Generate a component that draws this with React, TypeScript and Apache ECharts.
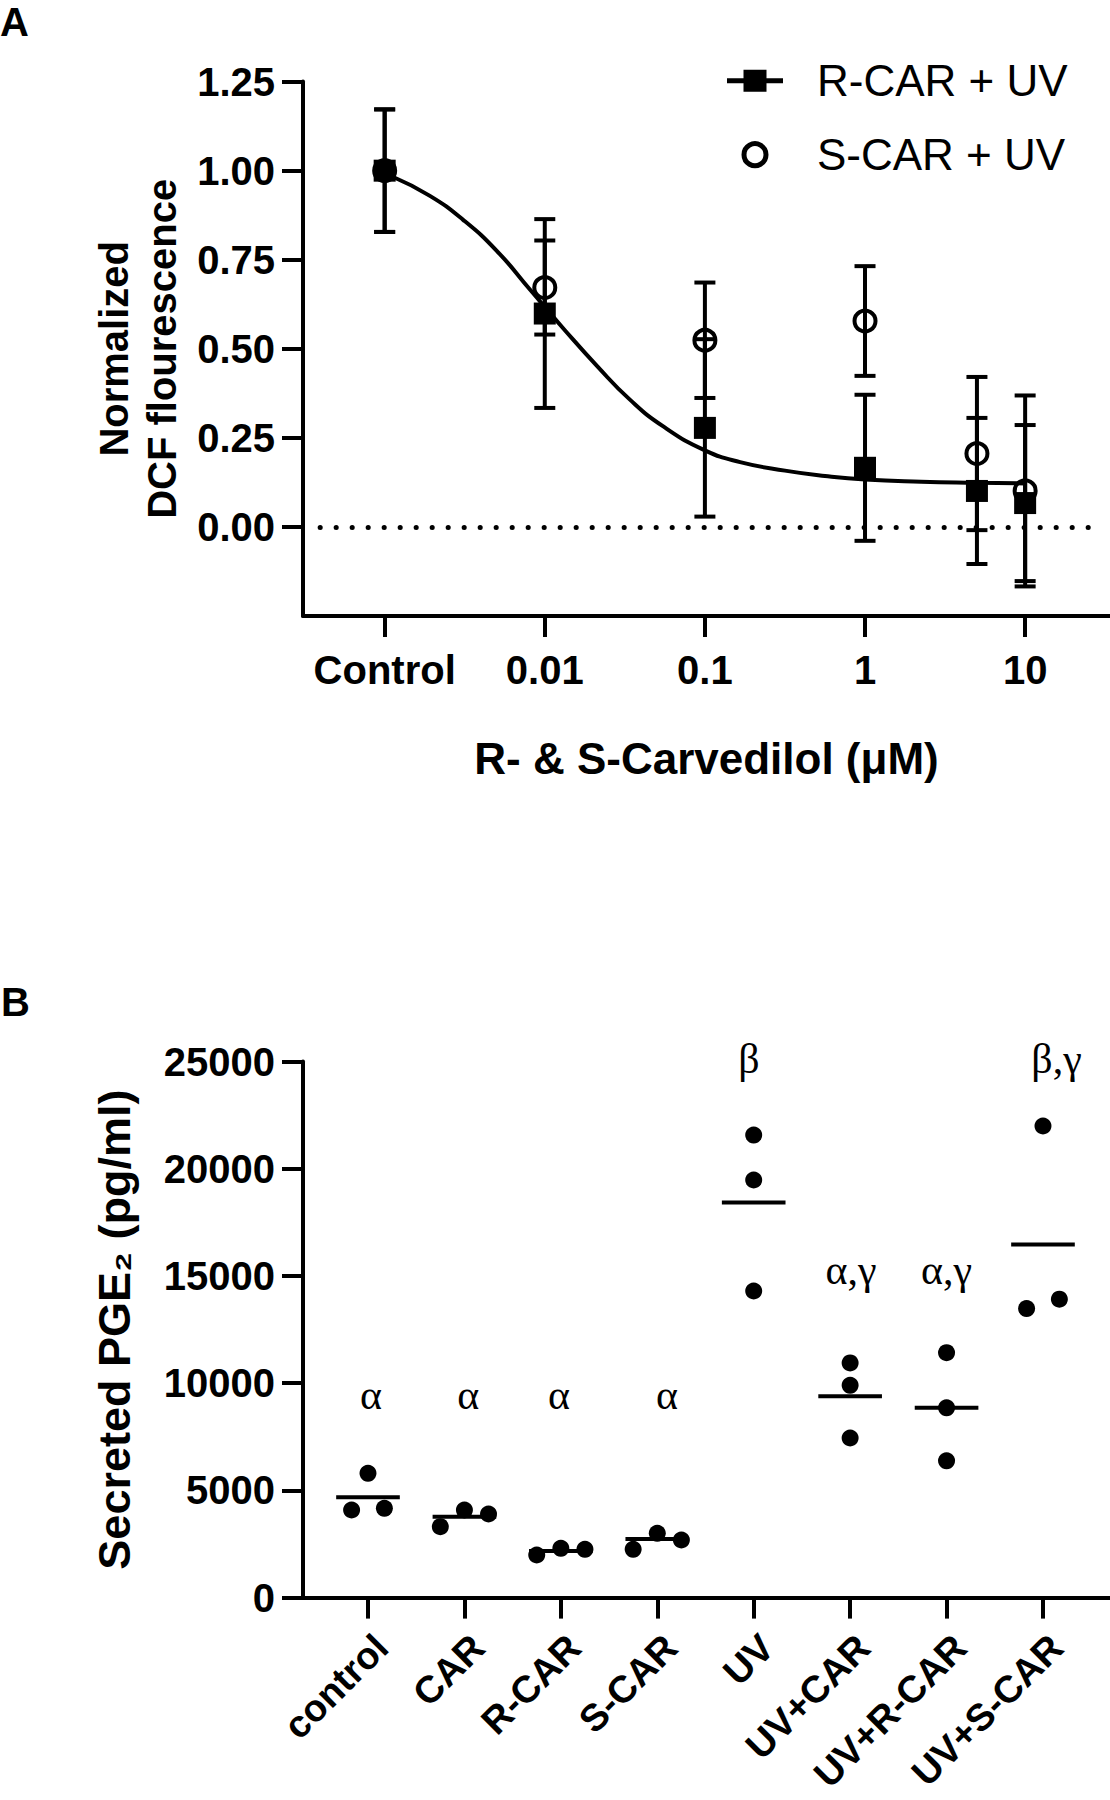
import React, { useEffect, useRef } from 'react';
import * as echarts from 'echarts';

const FONT = 'Arial, "Liberation Sans", Helvetica, sans-serif';
const SERIF = '"Times New Roman", "Liberation Serif", serif';

// ---------- Panel A data ----------
const concTickLabels = ['Control', '0.01', '0.1', '1', '10'];
const concTickLog = [-3, -2, -1, 0, 1];
// control plotted at the 0.001 µM pseudo position
const concentrations = [0.001, 0.01, 0.1, 1, 5, 10];
const rCarMean = [1.0, 0.599, 0.278, 0.166, 0.101, 0.067];
const rCarErr = [0.172, 0.265, 0.249, 0.205, 0.205, 0.219];
const sCarMean = [1.0, 0.672, 0.524, 0.578, 0.206, 0.101];
const sCarErr = [0.172, 0.132, 0.162, 0.154, 0.215, 0.268];
// fitted curve (log10 concentration, value)
const fitLogX = [-2.95, -2.72, -2.51, -2.3, -2.09, -1.88, -1.67, -1.47, -1.26, -1.0, -0.78, -0.5, -0.25, 0, 0.35, 0.7, 1.0];
const fitY = [0.983, 0.93, 0.862, 0.775, 0.665, 0.555, 0.45, 0.358, 0.282, 0.215, 0.182, 0.158, 0.143, 0.133, 0.127, 0.124, 0.122];
const yTicksA = [0, 0.25, 0.5, 0.75, 1.0, 1.25];

// ---------- Panel B data ----------
const groups = ['control', 'CAR', 'R-CAR', 'S-CAR', 'UV', 'UV+CAR', 'UV+R-CAR', 'UV+S-CAR'];
const replicates = [
  [4086, 5797, 4165],
  [3307, 4086, 3899],
  [1987, 2299, 2253],
  [2253, 2999, 2686],
  [21571, 19477, 14300],
  [10946, 9902, 7444],
  [11422, 8852, 6380],
  [13479, 21996, 13917],
];
const jitter = [
  [-0.17, 0, 0.17],
  [-0.25, 0, 0.25],
  [-0.25, 0, 0.25],
  [-0.25, 0, 0.25],
  [0, 0, 0],
  [0, 0, 0],
  [0, 0, 0],
  [-0.17, 0, 0.17],
];
const groupMeans = [4678, 3773, 2173, 2733, 18431, 9388, 8852, 16468];
const sigLabels = ['α', 'α', 'α', 'α', 'β', 'α,γ', 'α,γ', 'β,γ'];
const sigX = [1.03, 2.04, 2.98, 4.1, 4.95, 6.01, 7.0, 8.14];
const sigY = [9450, 9450, 9450, 9450, 25100, 15300, 15300, 25100];

const BLACK = '#000';
const axisLine = { show: true, onZero: false, lineStyle: { color: BLACK, width: 4 } };
const tickStyle = { color: BLACK, width: 4 };

function errorBarSeries(name: string, means: number[], errs: number[]) {
  return {
    type: 'custom',
    name,
    xAxisIndex: 0,
    yAxisIndex: 0,
    silent: true,
    encode: { x: 0, y: [1, 2] },
    data: concentrations.map((c, i) => [Math.log10(c), means[i] - errs[i], means[i] + errs[i]]),
    renderItem: (params: any, api: any) => {
      const x = api.value(0);
      const top = api.coord([x, api.value(2)]);
      const bot = api.coord([x, api.value(1)]);
      const hw = 10.5;
      const st = { stroke: BLACK, lineWidth: 4 };
      return {
        type: 'group',
        children: [
          { type: 'line', shape: { x1: top[0], y1: top[1], x2: bot[0], y2: bot[1] }, style: st },
          { type: 'line', shape: { x1: top[0] - hw, y1: top[1], x2: top[0] + hw, y2: top[1] }, style: st },
          { type: 'line', shape: { x1: bot[0] - hw, y1: bot[1], x2: bot[0] + hw, y2: bot[1] }, style: st },
        ],
      };
    },
  };
}

function buildOption() {
  const dots: number[][] = [];
  replicates.forEach((vals, i) => {
    vals.forEach((v, j) => dots.push([i + 1 + jitter[i][j], v]));
  });

  return {
    animation: false,
    backgroundColor: '#fff',
    textStyle: { fontFamily: FONT },
    graphic: [
      { type: 'text', left: 0, top: 2, style: { text: 'A', font: `bold 40px ${FONT}`, fill: BLACK } },
      { type: 'text', left: 1, top: 982, style: { text: 'B', font: `bold 40px ${FONT}`, fill: BLACK } },
    ],
    legend: {
      orient: 'vertical',
      left: 727,
      top: 58.7,
      padding: 0,
      itemWidth: 56,
      itemHeight: 22,
      itemGap: 30,
      selectedMode: false,
      textStyle: { fontSize: 44, lineHeight: 44, color: BLACK, fontFamily: FONT, padding: [0, 0, 0, 29] },
      data: [
        {
          name: 'R-CAR + UV',
          icon: 'path://M0,8.5 L56,8.5 L56,13.5 L0,13.5 Z M16.5,0 L39.5,0 L39.5,22 L16.5,22 Z',
          itemStyle: { color: BLACK, borderWidth: 0, opacity: 1 },
        },
        {
          name: 'S-CAR + UV',
          icon: 'circle',
          itemStyle: { color: 'rgba(0,0,0,0)', borderColor: BLACK, borderWidth: 5, opacity: 1 },
        },
      ],
    },
    grid: [
      { left: 303, right: 0, top: 81.6, bottom: 1184, outerBoundsMode: 'none', containLabel: false },
      { left: 303, right: 0, top: 1061.6, bottom: 202.4, outerBoundsMode: 'none', containLabel: false },
    ],
    xAxis: [
      {
        type: 'value',
        gridIndex: 0,
        min: -3.51,
        max: 1.53,
        axisLine,
        splitLine: { show: false },
        axisTick: { show: true, length: 21, lineStyle: tickStyle, customValues: concTickLog },
        axisLabel: {
          customValues: concTickLog,
          formatter: (v: number) => concTickLabels[concTickLog.indexOf(Math.round(v))] ?? '',
          fontSize: 40,
          fontWeight: 'bold',
          color: BLACK,
          fontFamily: FONT,
          margin: 34,
        },
        name: 'R- & S-Carvedilol (μM)',
        nameLocation: 'middle',
        nameGap: 120,
        nameTextStyle: { fontSize: 44, fontWeight: 'bold', color: BLACK, fontFamily: FONT, lineHeight: 44 },
      },
      {
        type: 'value',
        gridIndex: 1,
        min: 0.326,
        max: 8.695,
        axisLine,
        splitLine: { show: false },
        axisTick: { show: true, length: 21, lineStyle: tickStyle, customValues: [1, 2, 3, 4, 5, 6, 7, 8] },
        axisLabel: {
          customValues: [1, 2, 3, 4, 5, 6, 7, 8],
          formatter: (v: number) => groups[Math.round(v) - 1] ?? '',
          rotate: 45,
          align: 'right',
          verticalAlign: 'top',
          fontSize: 38,
          fontWeight: 'bold',
          color: BLACK,
          fontFamily: FONT,
          margin: 30,
        },
      },
    ],
    yAxis: [
      {
        type: 'value',
        gridIndex: 0,
        min: -0.25,
        max: 1.25,
        axisLine,
        splitLine: { show: false },
        axisTick: { show: true, length: 21, lineStyle: tickStyle, customValues: yTicksA },
        axisLabel: {
          customValues: yTicksA,
          formatter: (v: number) => v.toFixed(2),
          fontSize: 40,
          fontWeight: 'bold',
          color: BLACK,
          fontFamily: FONT,
          margin: 28,
        },
        name: 'Normalized\nDCF flourescence',
        nameLocation: 'middle',
        nameRotate: 90,
        nameGap: 112,
        nameTextStyle: { fontSize: 40, fontWeight: 'bold', color: BLACK, fontFamily: FONT, lineHeight: 48 },
      },
      {
        type: 'value',
        gridIndex: 1,
        min: 0,
        max: 25000,
        interval: 5000,
        axisLine,
        splitLine: { show: false },
        axisTick: { show: true, length: 21, lineStyle: tickStyle },
        axisLabel: {
          formatter: (v: number) => String(v),
          fontSize: 40,
          fontWeight: 'bold',
          color: BLACK,
          fontFamily: FONT,
          margin: 28,
        },
        name: 'Secreted PGE₂ (pg/ml)',
        nameLocation: 'middle',
        nameRotate: 90,
        nameGap: 166,
        nameTextStyle: { fontSize: 45, fontWeight: 'bold', color: BLACK, fontFamily: FONT, lineHeight: 45 },
      },
    ],
    series: [
      {
        type: 'line',
        name: 'fit',
        xAxisIndex: 0,
        yAxisIndex: 0,
        data: fitLogX.map((x, i) => [x, fitY[i]]),
        smooth: true,
        symbol: 'none',
        silent: true,
        lineStyle: { color: BLACK, width: 4, opacity: 1 },
        markLine: {
          silent: true,
          symbol: 'none',
          label: { show: false },
          lineStyle: { color: BLACK, width: 5, type: [0.1, 15.9], cap: 'round', opacity: 1 },
          emphasis: { disabled: true },
          data: [[{ coord: [-3.403, 0] }, { coord: [1.406, 0] }]],
        },
      },
      errorBarSeries('R err', rCarMean, rCarErr),
      errorBarSeries('S err', sCarMean, sCarErr),
      {
        type: 'scatter',
        name: 'S-CAR + UV',
        xAxisIndex: 0,
        yAxisIndex: 0,
        symbol: 'circle',
        symbolSize: 21,
        data: concentrations.map((c, i) => [Math.log10(c), sCarMean[i]]),
        itemStyle: { color: 'rgba(0,0,0,0)', borderColor: BLACK, borderWidth: 4, opacity: 1 },
        z: 4,
      },
      {
        type: 'scatter',
        name: 'R-CAR + UV',
        xAxisIndex: 0,
        yAxisIndex: 0,
        symbol: 'rect',
        symbolSize: 22,
        data: concentrations.map((c, i) => [Math.log10(c), rCarMean[i]]),
        itemStyle: { color: BLACK, opacity: 1 },
        z: 5,
      },
      // Panel B
      {
        type: 'custom',
        name: 'mean',
        xAxisIndex: 1,
        yAxisIndex: 1,
        silent: true,
        encode: { x: 0, y: 1 },
        data: groupMeans.map((m, i) => [i + 1, m]),
        renderItem: (params: any, api: any) => {
          const x = api.value(0);
          const m = api.value(1);
          const a = api.coord([x - 0.33, m]);
          const b = api.coord([x + 0.33, m]);
          return {
            type: 'line',
            shape: { x1: a[0], y1: a[1], x2: b[0], y2: b[1] },
            style: { stroke: BLACK, lineWidth: 4 },
          };
        },
      },
      {
        type: 'scatter',
        name: 'replicates',
        xAxisIndex: 1,
        yAxisIndex: 1,
        symbol: 'circle',
        symbolSize: 17,
        data: dots,
        itemStyle: { color: BLACK, opacity: 1 },
        z: 5,
      },
      {
        type: 'scatter',
        name: 'significance',
        xAxisIndex: 1,
        yAxisIndex: 1,
        symbolSize: 1,
        clip: false,
        silent: true,
        itemStyle: { color: 'rgba(0,0,0,0)', opacity: 1 },
        data: sigX.map((x, i) => ({ value: [x, sigY[i]], name: sigLabels[i] })),
        label: {
          show: true,
          position: 'inside',
          formatter: (p: any) => p.name,
          fontFamily: SERIF,
          fontSize: 42,
          color: BLACK,
          opacity: 1,
          textBorderWidth: 0,
        },
      },
    ],
  };
}

export default function App() {
  const ref = useRef<HTMLDivElement>(null);
  useEffect(() => {
    document.body.style.margin = '0';
    const chart = echarts.init(ref.current!, null, { renderer: 'svg' });
    chart.setOption(buildOption() as any);
    return () => chart.dispose();
  }, []);
  return <div ref={ref} style={{ width: 1110, height: 1800 }} />;
}
